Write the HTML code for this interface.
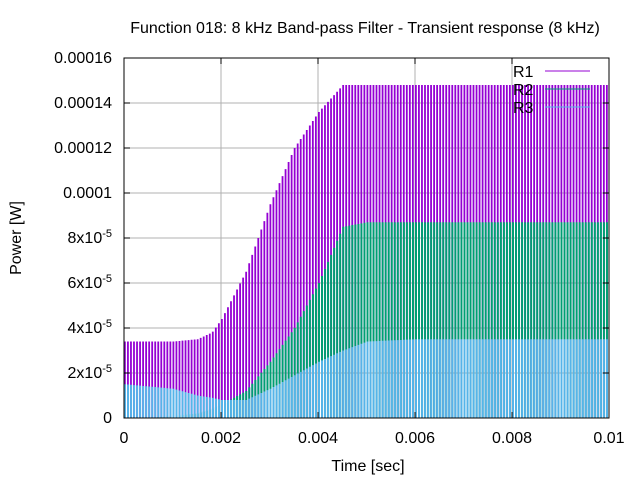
<!DOCTYPE html>
<html><head><meta charset="utf-8"><style>body{margin:0;background:#fff}svg{display:block;font-family:"Liberation Sans",sans-serif}</style></head>
<body>
<svg id="chart" width="640" height="480">
<rect width="640" height="480" fill="#fff"/>
<text x="365" y="33" font-size="16" text-anchor="middle">Function 018: 8 kHz Band-pass Filter - Transient response (8 kHz)</text>
<g id="grid"></g>
<g id="series"></g>
<rect x="124" y="58" width="485" height="360" fill="none" stroke="#000"/>
<g id="axes"></g>
<text x="368" y="471" font-size="16" text-anchor="middle">Time [sec]</text>
<text transform="translate(21,238) rotate(-90)" font-size="16" text-anchor="middle">Power [W]</text>
<g id="legend"></g>
</svg>
<script>
const envT = [0,0.0005,0.001,0.0015,0.0018,0.002,0.0025,0.003,0.0035,0.004,0.0045,0.005,0.006,0.008,0.01];
const r1Peak = [3.4e-5,3.4e-5,3.4e-5,3.5e-5,3.8e-5,4.4e-5,6.5e-5,9.5e-5,1.2e-4,1.36e-4,1.48e-4,1.48e-4,1.48e-4,1.48e-4,1.48e-4];
const r2Peak = [0,0,0.1e-5,0.2e-5,0.4e-5,0.6e-5,1.2e-5,2.5e-5,4e-5,6e-5,8.5e-5,8.7e-5,8.7e-5,8.7e-5,8.7e-5];
const r3Peak = [1.5e-5,1.4e-5,1.3e-5,1.0e-5,0.9e-5,0.8e-5,0.8e-5,1.3e-5,1.9e-5,2.5e-5,3.0e-5,3.4e-5,3.5e-5,3.5e-5,3.5e-5];
const seriesNames = ["R1","R2","R3"];
const seriesColors = ["#9400d3","#009e73","#56b4e9"];
const xTicks = [0,0.002,0.004,0.006,0.008,0.01];
const xTickLabels = ["0","0.002","0.004","0.006","0.008","0.01"];
const yTicks = [0,2e-5,4e-5,6e-5,8e-5,1e-4,1.2e-4,1.4e-4,1.6e-4];
const yTickLabels = ["0","2x10|-5","4x10|-5","6x10|-5","8x10|-5","0.0001","0.00012","0.00014","0.00016"];
const NS="http://www.w3.org/2000/svg";
const X=v=>124+v/0.01*485, Y=v=>418-v/1.6e-4*360;
function mk(tag,attrs,parent){const e=document.createElementNS(NS,tag);for(const k in attrs)e.setAttribute(k,attrs[k]);parent.appendChild(e);return e;}
const grid=document.getElementById('grid'),axes=document.getElementById('axes');
xTicks.forEach((t,i)=>{
 const l=mk('line',{x1:X(t),x2:X(t),y1:58,y2:418,stroke:'#b0b0b0','stroke-width':1},grid);
 
 
 mk('line',{x1:X(t),x2:X(t),y1:418,y2:412,stroke:'#000'},axes);
 mk('line',{x1:X(t),x2:X(t),y1:58,y2:64,stroke:'#000'},axes);
 const tx=mk('text',{x:X(t),y:443,'font-size':16,'text-anchor':'middle'},axes);
 tx.textContent=xTickLabels[i];
 
 
});
yTicks.forEach((t,i)=>{
 const l=mk('line',{x1:124,x2:609,y1:Y(t),y2:Y(t),stroke:'#b0b0b0','stroke-width':1},grid);
 
 
 mk('line',{x1:124,x2:130,y1:Y(t),y2:Y(t),stroke:'#000'},axes);
 mk('line',{x1:603,x2:609,y1:Y(t),y2:Y(t),stroke:'#000'},axes);
 const tx=mk('text',{x:112,y:Y(t)+5,'font-size':16,'text-anchor':'end'},axes);
 
 
 const p=yTickLabels[i].split('|');
 if(p.length>1){const a=mk('tspan',{},tx);a.textContent=p[0];const b=mk('tspan',{dy:-6,'font-size':11},tx);b.textContent=p[1];}
 else tx.textContent=p[0];
});
function env(arr,t){for(let i=0;i<envT.length-1;i++){if(t<=envT[i+1]){const f=(t-envT[i])/(envT[i+1]-envT[i]);return arr[i]+f*(arr[i+1]-arr[i]);}}return arr[arr.length-1];}
const peaks=[r1Peak,r2Peak,r3Peak];
const barW=[1.8,2.0,2.0];
const sg=document.getElementById('series');
peaks.forEach((arr,s)=>{
 const dt=1/16000;let d='';
 for(let k=0;k*dt<=0.01+1e-9;k++){const t=k*dt;const v=env(arr,t);const x0=X(t);const w=Math.min(barW[s],609-x0);if(w<=0)continue;
  d+='M'+x0.toFixed(2)+' '+Y(0)+'V'+Y(v).toFixed(2)+'h'+w+'V'+Y(0)+'Z';}
 const p=mk('path',{d:d,fill:seriesColors[s]},sg);
 
 
});
const lg=document.getElementById('legend');
seriesNames.forEach((n,i)=>{
 const y=71+i*18;
 const t=mk('text',{x:513,y:y+6,'font-size':16},lg);t.textContent=n;
 
 
 const l=mk('line',{x1:545,x2:590,y1:y,y2:y,stroke:seriesColors[i],'stroke-width':1},lg);
 
 
});
</script>
</body></html>
